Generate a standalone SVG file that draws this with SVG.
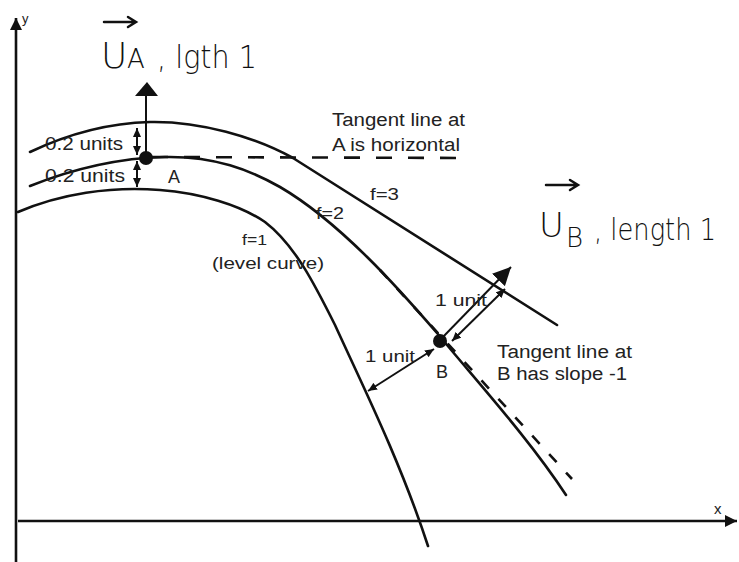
<svg xmlns="http://www.w3.org/2000/svg" width="739" height="562" viewBox="0 0 739 562">
<style>
.curve{fill:none;stroke:#111;stroke-width:2.6;stroke-linecap:round}
.axis{fill:none;stroke:#111;stroke-width:2.6}
.dash{fill:none;stroke:#111;stroke-width:2.6}
.dim{fill:none;stroke:#111;stroke-width:2}
.lbl{font-family:"Liberation Sans",Arial,sans-serif;fill:#222}
.hand{font-family:"DejaVu Sans","Liberation Sans",sans-serif;fill:#111;font-weight:300}
.dot{fill:#111}
</style>
<defs>
<marker id="axArrow" markerUnits="userSpaceOnUse" markerWidth="14" markerHeight="12" refX="12" refY="6" orient="auto">
<path d="M0,0 L12,6 L0,12 z" fill="#111"/>
</marker>
<marker id="dimArrow" markerUnits="userSpaceOnUse" markerWidth="10" markerHeight="8" refX="9" refY="4" orient="auto-start-reverse">
<path d="M0,0 L9,4 L0,8 z" fill="#111"/>
</marker>
<marker id="vecArrow" markerUnits="userSpaceOnUse" markerWidth="20" markerHeight="18" refX="18" refY="9" orient="auto">
<path d="M0,0 L18,9 L0,18 z" fill="#111"/>
</marker>
</defs>

<g id="axes">
<line class="axis" x1="16" y1="562" x2="16" y2="18" marker-end="url(#axArrow)"/>
<line class="axis" x1="18" y1="521" x2="737" y2="521" marker-end="url(#axArrow)"/>
<text class="lbl" x="22" y="23" font-size="13">y</text>
<text class="lbl" x="714" y="514" font-size="15">x</text>
</g>

<g id="curves">
<path id="f1" class="curve" d="M18,212 C60,194 110,186 160,190 C200,193 240,205 265,222 C295,245 315,285 335,325 C360,380 400,460 428,546"/>
<path id="f2" class="curve" d="M30,186 C75,168 120,158 165,157 C215,156 250,170 280,187 C340,222 400,290 437,333 C480,385 530,440 566,495"/>
<path id="f3" class="curve" d="M30,152 C70,133 110,123 150,122 C200,121 255,137 293,158 L557,325"/>
</g>

<g id="connectors">
<line id="tangentA" class="dash" x1="152" y1="157" x2="468" y2="158" stroke-dasharray="16 16"/>
<line id="tangentB" class="dash" x1="380" y1="270" x2="572" y2="479" stroke-dasharray="11 14"/>
<line id="vecA" class="dim" stroke-width="2.6" x1="146" y1="158" x2="146" y2="94"/>
<path d="M147,82 L158,96 L135,96 z" fill="#111"/>
<line id="dimA1" class="dim" x1="137" y1="128" x2="137" y2="155" marker-start="url(#dimArrow)" marker-end="url(#dimArrow)"/>
<line id="dimA2" class="dim" x1="137" y1="161" x2="137" y2="187" marker-start="url(#dimArrow)" marker-end="url(#dimArrow)"/>
<line id="vecB" class="dim" stroke-width="2.4" x1="441" y1="339" x2="511" y2="267" marker-end="url(#vecArrow)"/>
<line id="dimB1" class="dim" x1="452" y1="341" x2="505" y2="289" marker-start="url(#dimArrow)" marker-end="url(#dimArrow)"/>
<line id="dimB2" class="dim" x1="434" y1="349" x2="368" y2="391" marker-start="url(#dimArrow)" marker-end="url(#dimArrow)"/>
</g>

<g id="pointA">
<circle class="dot" cx="146" cy="158" r="7"/>
<text class="lbl" x="168" y="183" font-size="18">A</text>
</g>
<g id="pointB">
<circle class="dot" cx="440" cy="341" r="7"/>
<text class="lbl" x="436" y="378" font-size="18">B</text>
</g>

<g id="labels">
<text class="lbl" x="45" y="150" font-size="18" textLength="78" lengthAdjust="spacingAndGlyphs">0.2 units</text>
<text class="lbl" x="45" y="182" font-size="18" textLength="80" lengthAdjust="spacingAndGlyphs">0.2 units</text>
<text class="lbl" x="332" y="126" font-size="18" textLength="133" lengthAdjust="spacingAndGlyphs">Tangent line at</text>
<text class="lbl" x="332" y="151" font-size="18" textLength="128" lengthAdjust="spacingAndGlyphs">A is horizontal</text>
<text class="lbl" x="370" y="200" font-size="17" textLength="29" lengthAdjust="spacingAndGlyphs">f=3</text>
<text class="lbl" x="316" y="219" font-size="17" textLength="28" lengthAdjust="spacingAndGlyphs">f=2</text>
<text class="lbl" x="242" y="245" font-size="14" textLength="25" lengthAdjust="spacingAndGlyphs">f=1</text>
<text class="lbl" x="212" y="269" font-size="17" textLength="112" lengthAdjust="spacingAndGlyphs">(level curve)</text>
<text class="lbl" x="435" y="306" font-size="17" textLength="52" lengthAdjust="spacingAndGlyphs">1 unit</text>
<text class="lbl" x="365" y="362" font-size="17" textLength="50" lengthAdjust="spacingAndGlyphs">1 unit</text>
<text class="lbl" x="497" y="358" font-size="18" textLength="135" lengthAdjust="spacingAndGlyphs">Tangent line at</text>
<text class="lbl" x="497" y="380" font-size="18" textLength="130" lengthAdjust="spacingAndGlyphs">B has slope -1</text>
</g>

<g id="handA">
<path d="M104,22 L134,22 M128,17 L136,22 L128,27" fill="none" stroke="#111" stroke-width="2.5" stroke-linecap="round"/>
<text class="hand" y="68" font-size="36"><tspan x="101">U</tspan><tspan font-size="26" x="127">A</tspan><tspan font-size="32" x="157" textLength="100" lengthAdjust="spacingAndGlyphs">, lgth 1</tspan></text>
</g>
<g id="handB">
<path d="M546,185 L576,185 M570,180 L578,185 L570,190" fill="none" stroke="#111" stroke-width="2.5" stroke-linecap="round"/>
<text class="hand" y="237" font-size="34"><tspan x="539">U</tspan><tspan font-size="26" x="566" y="247">B</tspan><tspan font-size="30" x="594" y="240" textLength="122" lengthAdjust="spacingAndGlyphs">, length 1</tspan></text>
</g>
</svg>
